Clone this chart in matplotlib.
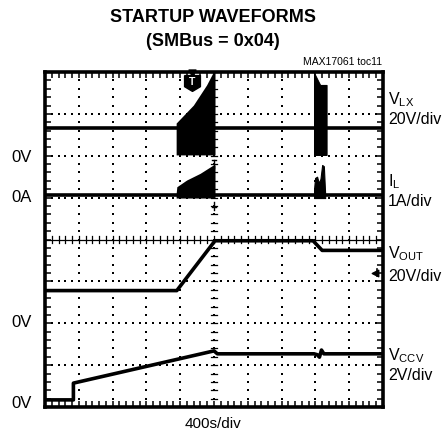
import numpy as np
import matplotlib
matplotlib.use("Agg")
import matplotlib.pyplot as plt
from matplotlib.ticker import MultipleLocator, NullFormatter

plt.rcParams['font.family'] = ['Liberation Sans', 'DejaVu Sans']
plt.rcParams['mathtext.fontset'] = 'custom'
plt.rcParams['mathtext.rm'] = 'Liberation Sans'
plt.rcParams['mathtext.it'] = 'Liberation Sans'

# ---------------- data (in scope divisions: x 0..10, y 0..8) ----------------
vlx_base = 6.66
vlx_burst1_x = [3.88, 4.39, 4.78, 4.98, 5.03]
vlx_burst1_top = [6.78, 7.21, 7.69, 8.0, 8.0]
vlx_burst_bottom = 6.02
vlx_burst2_x = [7.96, 8.14, 8.33]
vlx_burst2_top = [7.98, 7.69, 7.69]

il_base = 5.06
il_burst1_x = [3.88, 3.9, 4.19, 4.59, 4.98, 5.03]
il_burst1_top = [5.1, 5.26, 5.42, 5.58, 5.78, 5.78]
il_burst_bottom = 4.99
il_burst2_x = [7.96, 7.99, 8.05, 8.1, 8.15, 8.2, 8.25, 8.29]
il_burst2_top = [5.2, 5.47, 5.5, 5.35, 5.45, 5.78, 5.75, 5.06]

vout_x = [0, 3.9, 5.03, 7.93, 8.2, 10]
vout_y = [2.78, 2.78, 3.97, 3.97, 3.74, 3.74]

vccv_x = [0, 0.84, 0.84, 5.0, 5.1, 7.96, 8.05, 8.12, 8.18, 8.25, 10]
vccv_y = [0.17, 0.17, 0.57, 1.34, 1.27, 1.27, 1.25, 1.19, 1.36, 1.27, 1.27]

right_labels = [("V$_{\\rm LX}$", "20V/div"), ("I$_{\\rm L}$", "1A/div"),
                ("V$_{\\rm OUT}$", "20V/div"), ("V$_{\\rm CCV}$", "2V/div")]
left_labels = ["0V", "0A", "0V", "0V"]

# ---------------- figure ----------------
W, H = 446, 443
fig = plt.figure(figsize=(W / 100, H / 100), dpi=100)
L, R, T, B = 45, 383, 72, 407
ax = fig.add_axes([L / W, 1 - B / H, (R - L) / W, (B - T) / H])
ax.set_xlim(0, 10)
ax.set_ylim(0, 8)

def fx(px):
    return px / W

def fy(py):
    return 1 - py / H

# grid dots
gx = np.arange(0, 10.001, 0.2)
gy = np.arange(0, 8.001, 0.2)
for k in range(1, 10):
    if k == 5:
        continue
    ax.scatter(np.full_like(gy, k), gy, s=1.2, c='k', marker='s', lw=0, zorder=1)
for k in range(1, 8):
    if k == 4:
        continue
    ax.scatter(gx, np.full_like(gx, k), s=1.2, c='k', marker='s', lw=0, zorder=1)
# center crosshair
ax.axhline(4, color='k', lw=0.9, zorder=1)
ax.scatter(np.full_like(gy, 5), gy, s=1.5, c='k', marker='s', lw=0, zorder=1)
for v in gx:
    ax.plot([v, v], [3.92, 4.08], color='k', lw=0.9, zorder=1)
for v in gy:
    ax.plot([4.92, 5.08], [v, v], color='k', lw=0.9, zorder=1)

# traces
lw = 2.6
ax.plot([0, 10], [vlx_base, vlx_base], color='k', lw=lw, zorder=3)
ax.fill_between(vlx_burst1_x, vlx_burst_bottom, vlx_burst1_top, color='k', lw=0, zorder=3)
ax.fill_between(vlx_burst2_x, vlx_burst_bottom, vlx_burst2_top, color='k', lw=0.8, zorder=3)
ax.plot([0, 10], [il_base, il_base], color='k', lw=lw, zorder=3)
ax.fill_between(il_burst1_x, il_burst_bottom, il_burst1_top, color='k', lw=0, zorder=3)
ax.fill_between(il_burst2_x, il_burst_bottom, il_burst2_top, color='k', lw=0.8, zorder=3)
ax.plot(vout_x, vout_y, color='k', lw=lw, zorder=3, solid_joinstyle='round')
ax.plot(vccv_x, vccv_y, color='k', lw=lw, zorder=3, solid_joinstyle='round')

# trigger marker
shield = [(-1, 1), (1, 1), (1, -0.4), (0, -1), (-1, -0.4), (-1, 1)]
ax.scatter([4.34], [7.73], marker=shield, s=130, c='k', zorder=5)
ax.text(4.34, 7.76, "T", color='white', fontsize=7.5, fontweight='bold',
        ha='center', va='center', zorder=6)
ax.scatter([4.34], [7.97], marker='v', s=25, c='k', zorder=5, clip_on=False)
# cursor markers at center
ax.plot([5.0, 5.0], [5.7, 5.9], color='k', lw=1, zorder=4)
ax.plot([4.93, 5.07], [5.9, 5.9], color='k', lw=1, zorder=4)
ax.plot([5.0, 5.0], [4.9, 4.7], color='k', lw=1, zorder=4)
ax.plot([4.93, 5.07], [4.78, 4.78], color='k', lw=1, zorder=4)
# level arrow at right
ax.scatter([9.76], [3.21], marker='<', s=22, c='k', zorder=5)
ax.plot([9.82, 9.82], [3.12, 3.3], color='k', lw=1.2, zorder=5)

# frame and ticks
for s in ax.spines.values():
    s.set_linewidth(2.6)
ax.xaxis.set_major_locator(MultipleLocator(1))
ax.yaxis.set_major_locator(MultipleLocator(1))
ax.xaxis.set_minor_locator(MultipleLocator(0.2))
ax.yaxis.set_minor_locator(MultipleLocator(0.2))
ax.xaxis.set_major_formatter(NullFormatter())
ax.yaxis.set_major_formatter(NullFormatter())
ax.tick_params(which='both', direction='in', length=4, width=1.1,
               top=True, right=True, bottom=True, left=True)

# texts
fig.text(fx(212.5), fy(17), "STARTUP WAVEFORMS", ha='center', va='center',
         fontsize=13, fontweight='bold')
fig.text(fx(212.5), fy(41), "(SMBus = 0x04)", ha='center', va='center',
         fontsize=13, fontweight='bold')
fig.text(fx(382), fy(62), "MAX17061 toc11", ha='right', va='center', fontsize=7.5)
fig.text(fx(213), fy(424), "400s/div", ha='center', va='center', fontsize=11)

right_y = [(99.5, 119), (181.5, 201), (254, 276.5), (356, 376)]
for (a, b), (ya, yb) in zip(right_labels, right_y):
    fig.text(fx(388), fy(ya), a, ha='left', va='center', fontsize=11.5)
    fig.text(fx(388), fy(yb), b, ha='left', va='center', fontsize=11.5)

left_y = [157, 197, 322.5, 404]
for lab, yy in zip(left_labels, left_y):
    fig.text(fx(22), fy(yy), lab, ha='center', va='center', fontsize=12)

fig.savefig("out.png", dpi=100)
